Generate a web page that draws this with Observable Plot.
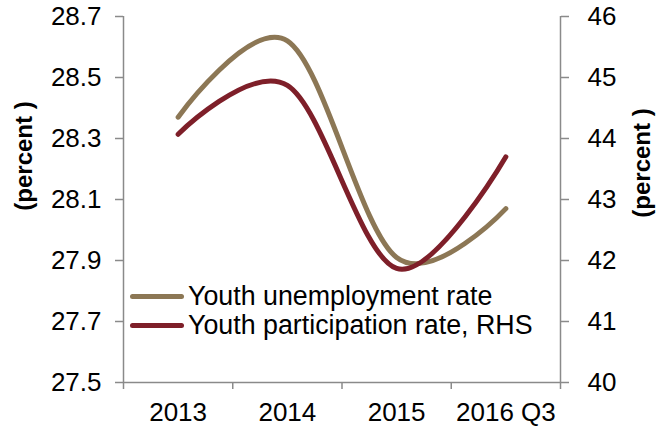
<!DOCTYPE html>
<html>
<head>
<meta charset="utf-8">
<script src="https://cdn.jsdelivr.net/npm/d3@7"></script>
<script src="https://cdn.jsdelivr.net/npm/@observablehq/plot@0.6"></script>
<style>
  html, body { margin: 0; padding: 0; background: #fff; }
  #wrap { position: relative; width: 661px; height: 430px; font-family: "Liberation Sans", Arial, sans-serif; }
  #chart svg { display: block; }
  .ytitle { position: absolute; font-weight: bold; font-size: 24px; color: #000; white-space: nowrap; transform-origin: center center; }
  #legend { position: absolute; left: 130px; top: 282px; font-size: 26.8px; color: #000; }
  .row { display: flex; align-items: center; height: 29px; }
  .swatch { width: 54px; height: 5px; border-radius: 3px; margin-right: 4px; }
</style>
</head>
<body>
<div id="wrap">
  <div id="chart"></div>
  <div class="ytitle" id="tl">(percent )</div>
  <div class="ytitle" id="tr">(percent )</div>
  <div id="legend"></div>
</div>
<script>
const categories = ["2013", "2014", "2015", "2016 Q3"];
const unemployment = [28.37, 28.62, 27.91, 28.07];
const participation = [44.07, 44.87, 41.87, 43.70];
const leftTicks = [27.5, 27.7, 27.9, 28.1, 28.3, 28.5, 28.7];
const rightTicks = [40, 41, 42, 43, 44, 45, 46];
const seriesNames = ["Youth unemployment rate", "Youth participation rate, RHS"];
const colors = ["#8C7755", "#7E1F29"];

const lMin = 27.5, lMax = 28.7, rMin = 40, rMax = 46;
const toLeft = v => lMin + (v - rMin) * (lMax - lMin) / (rMax - rMin);

const uData = categories.map((c, i) => ({i, v: unemployment[i]}));
const pData = categories.map((c, i) => ({i, v: toLeft(participation[i])}));
const bounds = d3.range(categories.length + 1).map(k => k - 0.5);
const axisColor = "#8a8a8a";

const chart = Plot.plot({
  width: 661,
  height: 430,
  marginLeft: 123,
  marginRight: 101,
  marginTop: 16,
  marginBottom: 48,
  style: {fontFamily: "'Liberation Sans', Arial, sans-serif", fontSize: "26px", color: "#000", background: "#fff"},
  x: {type: "linear", domain: [-0.5, categories.length - 0.5], axis: null},
  y: {domain: [lMin, lMax], axis: null},
  marks: [
    Plot.ruleX([bounds[0]], {stroke: axisColor, strokeWidth: 1.5}),
    Plot.ruleX([bounds[bounds.length - 1]], {stroke: axisColor, strokeWidth: 1.5}),
    Plot.ruleY([lMin], {stroke: axisColor, strokeWidth: 1.5}),
    Plot.axisY({anchor: "left", ticks: leftTicks, tickSize: 8, tickPadding: 14, tickFormat: d => d.toFixed(1), stroke: axisColor, strokeWidth: 1.5, fill: "#000", fontSize: 26, label: null}),
    Plot.axisY({anchor: "right", ticks: leftTicks, tickSize: 8, tickPadding: 19, tickFormat: (d, k) => String(rightTicks[k]), stroke: axisColor, strokeWidth: 1.5, fill: "#000", fontSize: 26, label: null}),
    Plot.axisX({anchor: "bottom", ticks: bounds, tickSize: 7, tickFormat: () => "", stroke: axisColor, strokeWidth: 1.5, label: null}),
    Plot.axisX({anchor: "bottom", ticks: categories.map((c, i) => i), tickSize: 0, tickPadding: 20, tickFormat: i => categories[i], fill: "#000", fontSize: 26, label: null}),
    Plot.line(uData, {x: "i", y: "v", stroke: colors[0], strokeWidth: 5, curve: "cardinal", tension: 0, strokeLinecap: "round"}),
    Plot.line(pData, {x: "i", y: "v", stroke: colors[1], strokeWidth: 5, curve: "cardinal", tension: 0, strokeLinecap: "round"})
  ]
});
document.getElementById("chart").append(chart);

const legend = document.getElementById("legend");
seriesNames.forEach((n, k) => {
  const row = document.createElement("div");
  row.className = "row";
  const sw = document.createElement("div");
  sw.className = "swatch";
  sw.style.background = colors[k];
  const t = document.createElement("span");
  t.textContent = n;
  row.append(sw, t);
  legend.append(row);
});

function placeTitle(id, cx, cy) {
  const el = document.getElementById(id);
  const w = el.offsetWidth, h = el.offsetHeight;
  el.style.left = (cx - w / 2) + "px";
  el.style.top = (cy - h / 2) + "px";
  el.style.transform = "rotate(-90deg)";
}
placeTitle("tl", 23, 156);
placeTitle("tr", 641, 163);
</script>
</body>
</html>
